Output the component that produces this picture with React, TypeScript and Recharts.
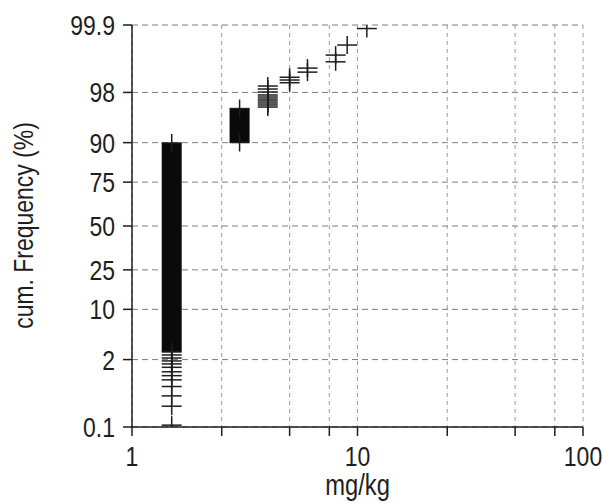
import React from 'react';
import { ComposedChart, Scatter, Line, XAxis, YAxis, CartesianGrid } from 'recharts';

// x axis (mg/kg, log scale)
const X_TICKS = [1, 2.5, 5, 7.5, 10, 25, 50, 75, 100];
const X_TICK_LABELS = ['1', '', '', '', '10', '', '', '', '100'];

// y axis (cumulative frequency, normal-probability scale)
const Y_TICK_PERCENTS = [0.1, 2, 10, 25, 50, 75, 90, 98, 99.9];
const Y_TICK_LABELS = ['0.1', '2', '10', '25', '50', '75', '90', '98', '99.9'];

// individually visible samples: concentration (mg/kg) and cumulative frequency (%)
const pointX = [
  1.5, 1.5, 1.5, 1.5, 1.5, 1.5, 1.5, 1.5, 1.5, 1.5, 1.5, 1.5,
  4, 4, 4, 4, 4, 4, 4, 4, 4, 4,
  5, 5, 5,
  6, 6,
  8, 8,
  9,
  11,
];
const pointP = [
  2.37, 2.12, 1.9, 1.7, 1.49, 1.25, 1.07, 0.9, 0.68, 0.45, 0.28, 0.11,
  98.43, 98.24, 98.03, 97.8, 97.63, 97.45, 97.27, 97.07, 96.86, 96.63,
  98.89, 98.76, 98.62,
  99.24, 99.1,
  99.57, 99.42,
  99.73,
  99.88,
];

// dense runs of overlapping samples (solid black columns)
const runX = [1.5, 3];
const runFromP = [2.64, 90.04];
const runToP = [89.9, 96.45];

const FONT = '"Liberation Sans", Arial, Helvetica, sans-serif';
const INK = '#1e1e1e';
const NARROW = 0.82;

function probit(p: number): number {
  const a = [-3.969683028665376e1, 2.209460984245205e2, -2.759285104469687e2, 1.38357751867269e2, -3.066479806614716e1, 2.506628277459239];
  const b = [-5.447609879822406e1, 1.615858368580409e2, -1.556989798598866e2, 6.680131188771972e1, -1.328068155288572e1];
  const c = [-7.784894002430293e-3, -3.223964580411365e-1, -2.400758277161838, -2.549732539343734, 4.374664141464968, 2.938163982698783];
  const d = [7.784695709041462e-3, 3.224671290700398e-1, 2.445134137142996, 3.754408661907416];
  const plow = 0.02425;
  const phigh = 1 - plow;
  if (p < plow) {
    const q = Math.sqrt(-2 * Math.log(p));
    return (((((c[0] * q + c[1]) * q + c[2]) * q + c[3]) * q + c[4]) * q + c[5]) / ((((d[0] * q + d[1]) * q + d[2]) * q + d[3]) * q + 1);
  }
  if (p > phigh) {
    const q = Math.sqrt(-2 * Math.log(1 - p));
    return -(((((c[0] * q + c[1]) * q + c[2]) * q + c[3]) * q + c[4]) * q + c[5]) / ((((d[0] * q + d[1]) * q + d[2]) * q + d[3]) * q + 1);
  }
  const q = p - 0.5;
  const r = q * q;
  return ((((((a[0] * r + a[1]) * r + a[2]) * r + a[3]) * r + a[4]) * r + a[5]) * q) / (((((b[0] * r + b[1]) * r + b[2]) * r + b[3]) * r + b[4]) * r + 1);
}

const yTicks = Y_TICK_PERCENTS.map((p) => probit(p / 100));
const yDomain = [yTicks[0], yTicks[yTicks.length - 1]];

const pointData = pointX.map((x, i) => ({ x, y: probit(pointP[i] / 100) }));
const runEndData = runX.flatMap((x, i) => [
  { x, y: probit(runFromP[i] / 100) },
  { x, y: probit(runToP[i] / 100) },
]);
const runSeries = runX.map((x, i) => [
  { x, y: probit(runFromP[i] / 100) },
  { x, y: probit(runToP[i] / 100) },
]);

const Cross = (props: any) => {
  const { cx, cy } = props;
  if (cx == null || cy == null || isNaN(cx) || isNaN(cy)) return <g />;
  return (
    <g>
      <line x1={cx - 10} x2={cx + 10} y1={cy} y2={cy} stroke={INK} strokeWidth={1.5} />
      <line x1={cx} x2={cx} y1={cy - 9} y2={cy + 9} stroke={INK} strokeWidth={1.5} />
    </g>
  );
};

const xLabel = (v: number) => {
  const i = X_TICKS.findIndex((t) => Math.abs(t - v) < 1e-9);
  return i >= 0 ? X_TICK_LABELS[i] : '';
};
const yLabel = (v: number) => {
  const i = yTicks.findIndex((t) => Math.abs(t - v) < 1e-9);
  return i >= 0 ? Y_TICK_LABELS[i] : '';
};

const XTick = (props: any) => {
  const { x, y, payload } = props;
  const label = xLabel(payload.value);
  if (!label) return <g />;
  return (
    <text
      transform={`translate(${x},${y}) scale(${NARROW},1)`}
      x={0}
      y={0}
      dy="0.71em"
      textAnchor="middle"
      fontSize={28}
      fontFamily={FONT}
      fill={INK}
    >
      {label}
    </text>
  );
};

const YTick = (props: any) => {
  const { x, y, payload } = props;
  const label = yLabel(payload.value);
  return (
    <text
      transform={`translate(${x},${y}) scale(${NARROW},1)`}
      x={0}
      y={0}
      dy="0.355em"
      textAnchor="end"
      fontSize={28}
      fontFamily={FONT}
      fill={INK}
    >
      {label}
    </text>
  );
};

const YTitle = () => (
  <text
    transform={`translate(33,225.5) rotate(-90) scale(${NARROW},1)`}
    x={0}
    y={0}
    textAnchor="middle"
    fontSize={28}
    fontFamily={FONT}
    fill={INK}
  >
    cum. Frequency (%)
  </text>
);

const XTitle = () => (
  <text
    transform={`translate(357.5,495) scale(${NARROW},1)`}
    x={0}
    y={0}
    textAnchor="middle"
    fontSize={29}
    fontFamily={FONT}
    fill={INK}
  >
    mg/kg
  </text>
);

export default function App() {
  return (
    <div style={{ position: 'absolute', left: 0, top: 0, background: '#fff' }}>
      <ComposedChart width={602} height={503} margin={{ top: 25, right: 19, bottom: 0, left: 0 }}>
        <CartesianGrid vertical={false} stroke="#7d7d7d" strokeDasharray="6 4" />
        <CartesianGrid horizontal={false} stroke="#9a9a9a" strokeDasharray="4 4" />
        <XAxis
          dataKey="x"
          type="number"
          scale="log"
          domain={[1, 100]}
          allowDataOverflow
          ticks={X_TICKS}
          interval={0}
          height={76}
          tickSize={9}
          tickMargin={10}
          axisLine={{ stroke: INK, strokeWidth: 1.5 }}
          tickLine={{ stroke: INK, strokeWidth: 1.5 }}
          tick={<XTick />}
          label={<XTitle />}
        />
        <YAxis
          dataKey="y"
          type="number"
          domain={yDomain}
          allowDataOverflow
          ticks={yTicks}
          interval={0}
          width={132}
          tickSize={9}
          tickMargin={8}
          axisLine={{ stroke: INK, strokeWidth: 1.5 }}
          tickLine={{ stroke: INK, strokeWidth: 1.5 }}
          tick={<YTick />}
          label={<YTitle />}
        />
        {runSeries.map((d, i) => (
          <Line
            key={'run' + i}
            data={d}
            dataKey="y"
            type="linear"
            stroke="#0a0a0a"
            strokeWidth={20}
            dot={false}
            activeDot={false}
            isAnimationActive={false}
          />
        ))}
        <Scatter data={runEndData} dataKey="y" shape={Cross} isAnimationActive={false} />
        <Scatter data={pointData} dataKey="y" shape={Cross} isAnimationActive={false} />
      </ComposedChart>
    </div>
  );
}
